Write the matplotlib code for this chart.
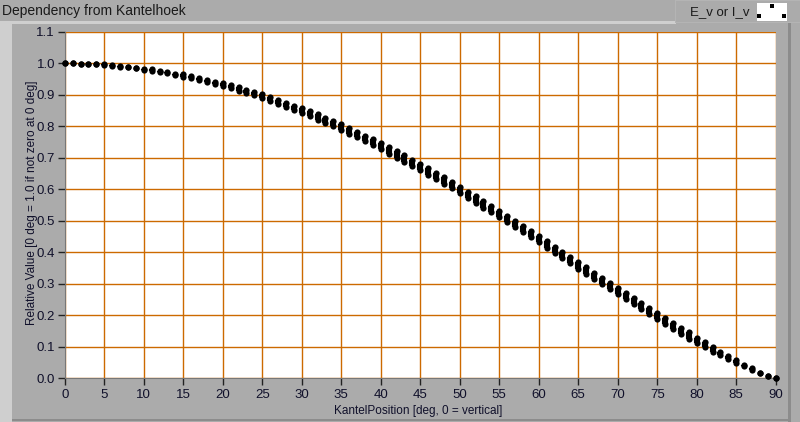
import matplotlib
matplotlib.use("Agg")
import matplotlib.pyplot as plt
from matplotlib.patches import Rectangle
import numpy as np

# ---- data ----
degrees = list(range(0, 91))
values = [
    1.000, 1.000, 0.999, 0.998, 0.997, 0.996, 0.994, 0.991, 0.989, 0.986,
    0.982, 0.979, 0.975, 0.971, 0.966, 0.962, 0.957, 0.951, 0.945, 0.939,
    0.933, 0.926, 0.919, 0.912, 0.904, 0.896, 0.887, 0.878, 0.869, 0.860,
    0.851, 0.841, 0.830, 0.820, 0.809, 0.798, 0.786, 0.774, 0.762, 0.750,
    0.737, 0.724, 0.711, 0.698, 0.684, 0.671, 0.657, 0.642, 0.628, 0.613,
    0.598, 0.583, 0.568, 0.552, 0.537, 0.521, 0.505, 0.490, 0.474, 0.458,
    0.442, 0.425, 0.408, 0.392, 0.375, 0.358, 0.342, 0.326, 0.309, 0.293,
    0.277, 0.261, 0.245, 0.229, 0.213, 0.197, 0.181, 0.166, 0.151, 0.136,
    0.121, 0.107, 0.093, 0.079, 0.066, 0.053, 0.041, 0.029, 0.018, 0.008,
    0.002,
]
spread = [
    0.000, 0.000, 0.000, 0.000, 0.000, 0.002, 0.002, 0.002, 0.002, 0.002,
    0.004, 0.004, 0.004, 0.004, 0.004, 0.007, 0.007, 0.007, 0.007, 0.007,
    0.010, 0.010, 0.010, 0.010, 0.010, 0.013, 0.013, 0.013, 0.013, 0.013,
    0.016, 0.016, 0.016, 0.016, 0.016, 0.018, 0.018, 0.018, 0.018, 0.018,
    0.020, 0.020, 0.020, 0.020, 0.020, 0.020, 0.020, 0.020, 0.020, 0.020,
    0.020, 0.020, 0.020, 0.020, 0.020, 0.020, 0.020, 0.020, 0.020, 0.020,
    0.020, 0.020, 0.020, 0.020, 0.020, 0.020, 0.020, 0.020, 0.020, 0.020,
    0.020, 0.020, 0.020, 0.020, 0.020, 0.020, 0.020, 0.020, 0.020, 0.020,
    0.016, 0.016, 0.016, 0.010, 0.010, 0.010, 0.005, 0.005, 0.000, 0.000,
    0.000,
]
x_ticks = list(range(0, 91, 5))
y_ticks = [0.0, 0.1, 0.2, 0.3, 0.4, 0.5, 0.6, 0.7, 0.8, 0.9, 1.0, 1.1]
title = "Dependency from Kantelhoek"
legend_label = "E_v or I_v"
xlabel = "KantelPosition [deg, 0 = vertical]"
ylabel = "Relative Value [0 deg = 1.0 if not zero at 0 deg]"

W, H = 800, 422
GRAY = "#ABABAB"
LIGHT = "#CFCFCF"
DARK = "#8C8C8C"
GRID = "#CC6A00"
TXT = "#10102a"
plt.rcParams["font.family"] = ["Liberation Sans", "DejaVu Sans"]

fig = plt.figure(figsize=(W / 100, H / 100), dpi=100, facecolor=GRAY)


def rect(x0, y0, x1, y1, color, z=0):
    fig.add_artist(Rectangle((x0 / W, 1 - y1 / H), (x1 - x0) / W, (y1 - y0) / H,
                             transform=fig.transFigure, facecolor=color,
                             edgecolor="none", zorder=z))


# frame decorations
rect(0, 21, 676, 24, LIGHT)
rect(0, 21, 12, 422, LIGHT)
rect(788, 22, 791, 422, DARK)
rect(12, 419, 788, 421, DARK)
rect(675, 0, 800, 23, "#B4B4B4")
rect(676, 1, 800, 22, GRAY)
rect(757, 3, 787, 21, "white")

fig.text(2 / W, 1 - 11 / H, title, fontsize=10, color="#1a1a1a",
         ha="left", va="center")
fig.text(690 / W, 1 - 12.5 / H, legend_label, fontsize=9.5, color="#1a1a1a",
         ha="left", va="center")
# legend icon dots
for px, py in [(772, 6), (759, 16), (784, 16)]:
    fig.add_artist(Rectangle(((px - 2) / W, 1 - (py + 2) / H), 4 / W, 4 / H,
                             transform=fig.transFigure, facecolor="black",
                             edgecolor="none", zorder=2))

# axes
left_px, right_px = 64.7, 775.7
top_px, bot_px = 32.0, 378.3
ax = fig.add_axes([left_px / W, 1 - bot_px / H, (right_px - left_px) / W,
                   (bot_px - top_px) / H])
ax.set_facecolor("white")
ax.set_xlim(0, 90)
ax.set_ylim(0, 1.1)
ax.set_xticks(x_ticks)
ax.set_yticks(y_ticks)
ax.set_xticklabels([str(t) for t in x_ticks])
ax.set_yticklabels([f"{t:.1f}" for t in y_ticks])
ax.grid(True, color=GRID, linewidth=1.0, zorder=1)
ax.set_axisbelow(True)
for s in ["top", "right"]:
    ax.spines[s].set_visible(False)
ax.spines["left"].set_color("#777777")
ax.spines["bottom"].set_color("#777777")
ax.tick_params(axis="both", direction="out", length=5, width=1, color="#222222",
               labelsize=9.5, labelcolor=TXT, pad=2)
ax.tick_params(axis="x", pad=3)
ax.set_xlabel(xlabel, fontsize=8.5, color=TXT)
ax.set_ylabel(ylabel, fontsize=8.5, color=TXT)
ax_w = right_px - left_px
ax_h = bot_px - top_px
ax.yaxis.set_label_coords((32 - left_px) / ax_w, (bot_px - 203) / ax_h)
ax.xaxis.set_label_coords((418 - left_px) / ax_w, (bot_px - 411) / ax_h)
ax.yaxis.label.set_va("center")
ax.xaxis.label.set_va("center")

deg = np.array(degrees, dtype=float)
val = np.array(values)
spr = np.array(spread)
lo = val - spr / 2
hi = val + spr / 2
ax.vlines(deg, lo, hi, colors="black", linewidth=4.4, zorder=3)
ax.scatter(np.concatenate([deg, deg]), np.concatenate([lo, hi]), s=20,
           color="black", marker="o", linewidths=0, zorder=4, clip_on=False)

fig.savefig("out.png", dpi=100, facecolor=GRAY)
